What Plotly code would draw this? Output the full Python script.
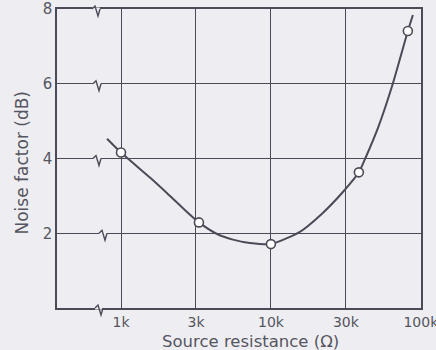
import plotly.graph_objects as go

# Measured points (open circles)
pt_r = [1000, 3310, 10000, 38600, 81900]
pt_nf = [4.16, 2.29, 1.71, 3.63, 7.41]

# Hand-drawn curve
curve_r = [807, 1000, 1560, 2030, 2590, 3310, 4370, 5580, 7240, 10000, 15500, 22000,
           30000, 38600, 43000, 52000, 65000, 81900, 88500]
curve_nf = [4.53, 4.16, 3.49, 3.07, 2.67, 2.29, 1.98, 1.83, 1.74, 1.71, 2.03, 2.53,
            3.09, 3.63, 4.04, 4.84, 6.0, 7.41, 7.84]

x_tickvals = [1000, 3162.28, 10000, 31622.8, 100000]
x_ticktext = ["1k", "3k", "10k", "30k", "100k"]
y_tickvals = [2, 4, 6, 8]
grid_y = [0, 2, 4, 6, 8]

INK = "#4b4b58"
TXT = "#55555f"
BG = "#eeeef2"
FONT = "DejaVu Sans"

# plot area geometry in pixels
L, R, T, B = 57, 421, 9, 308
PW, PH = R - L, B - T

fig = go.Figure()
fig.add_trace(go.Scatter(x=curve_r, y=curve_nf, mode="lines",
                         line=dict(color=INK, width=2, shape="spline", smoothing=0.6),
                         hoverinfo="skip", showlegend=False))
fig.add_trace(go.Scatter(x=pt_r, y=pt_nf, mode="markers",
                         marker=dict(symbol="circle", size=9, color="white",
                                     line=dict(color=INK, width=1.6)),
                         showlegend=False))

# break squiggles on the horizontal lines (paper coordinates)
def to_paper(px, py):
    return (px - L) / PW, (B - py) / PH

def squiggle(cx_px, gy):
    cy_px = B - gy / 8 * PH
    pts = [(-5, 0), (-2, -3), (1, 7), (3, 0)]
    segs = []
    for i, (dx, dy) in enumerate(pts):
        fx, fy = to_paper(cx_px + dx, cy_px + dy)
        segs.append(("M" if i == 0 else "L") + f"{fx:.5f},{fy:.5f}")
    return " ".join(segs)

brk_px = {0: 100, 2: 104, 4: 98, 6: 98, 8: 97}
for gy in grid_y:
    cx = brk_px[gy]
    cy = B - gy / 8 * PH
    x0, y0 = to_paper(cx - 5, cy)
    x1, _ = to_paper(cx + 3, cy)
    # erase the straight line under the squiggle
    fig.add_shape(type="line", xref="paper", yref="paper", x0=x0, x1=x1, y0=y0, y1=y0,
                  line=dict(color=BG, width=3), layer="above")
    fig.add_shape(type="path", xref="paper", yref="paper",
                  path=squiggle(cx, gy),
                  line=dict(color=INK, width=1.4), fillcolor="rgba(0,0,0,0)", layer="above")

fig.add_annotation(text="Noise factor (dB)", xref="paper", yref="paper", x=0, y=0.5,
                   xanchor="center", yanchor="middle", xshift=21 - L, yshift=-4,
                   textangle=-90,
                   showarrow=False, font=dict(size=17, color=TXT, family=FONT))
fig.add_annotation(text="Source resistance (Ω)", xref="paper", yref="paper", x=0.5, y=0,
                   xanchor="center", yanchor="middle", xshift=11, yshift=-(341 - B),
                   showarrow=False, font=dict(size=16.5, color=TXT, family=FONT))

fig.update_layout(
    width=436, height=350,
    margin=dict(l=L, r=436 - R, t=T, b=350 - B),
    paper_bgcolor=BG, plot_bgcolor=BG,
    font=dict(family=FONT, color=TXT, size=14),
)
fig.update_xaxes(type="log", range=[2.573, 5.001], automargin=False,
                 tickvals=x_tickvals, ticktext=x_ticktext,
                 showgrid=True, gridcolor=INK, gridwidth=1.4,
                 showline=True, linecolor=INK, linewidth=1.6, mirror=True,
                 zeroline=False, ticks="", tickfont=dict(size=14),
                 ticklabelstandoff=0, ticklabeloverflow="allow")
fig.update_yaxes(range=[0, 8], tickvals=y_tickvals, automargin=False,
                 showgrid=True, gridcolor=INK, gridwidth=1.4,
                 showline=True, linecolor=INK, linewidth=1.6, mirror=True,
                 zeroline=False, ticks="", tickfont=dict(size=15),
                 ticklabeloverflow="allow")

fig.write_html("out.html", config={"displayModeBar": False},
               post_script="document.body.style.margin='0px';document.body.style.overflow='hidden';")
